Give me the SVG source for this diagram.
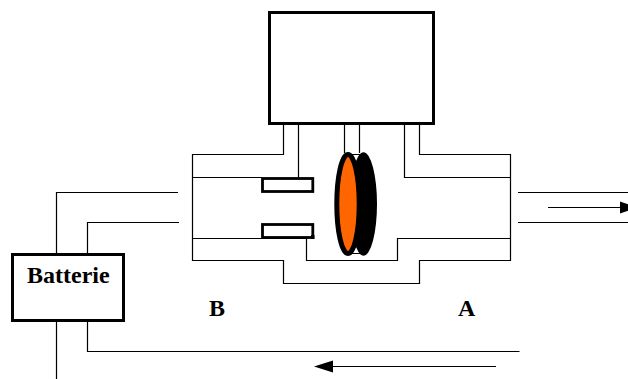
<svg xmlns="http://www.w3.org/2000/svg" width="628" height="379" viewBox="0 0 628 379">
<style>
.l{fill:none;stroke:#000;stroke-width:1.2}
.b{fill:#fff;stroke:#000;stroke-width:3}
.t{font-family:"Liberation Serif",serif;font-weight:bold;font-size:24px;fill:#000}
</style>
<rect width="628" height="379" fill="#fff"/>
<g id="connectors">
<path class="l" d="M283.5 124V154.5H192.5V260.5H283.5V283.5H419.5V260.5H510.5V154.5H419.5V124"/>
<path class="l" d="M298.5 124V177.5M192.5 177.5H262M404.5 124V177.5H510.5"/>
<path class="l" d="M192.5 238.5H306.5V260.5H397.5V238.5H510.5"/>
<path class="l" d="M344.5 124V153M359.5 124V153M348 154.5H363M348 253.5H363"/>
<path class="l" d="M178 192.5H56.5V254M179 222.5H87.5V254M56.5 321V379M87.5 321V351.5H519.5"/>
<path class="l" d="M518 192.5H628M518 222.5H628M548 207.5H622M496 366.5H330"/>
<path d="M620 201.500L638 207.500L620 213.500Z"/>
<path d="M314 366.500L333 360.500V372.500Z"/>
</g>
<g id="sensor-top"><rect x="262.500" y="178.500" width="50.300" height="13" fill="#fff" stroke="#000" stroke-width="2.800"/></g>
<g id="sensor-bottom"><rect x="262.500" y="224.500" width="50.300" height="13" fill="#fff" stroke="#000" stroke-width="2.800"/><rect x="311" y="235" width="3.500" height="4"/></g>
<g id="piston">
<ellipse cx="363.500" cy="204" rx="13.500" ry="51.700"/>
<ellipse cx="348" cy="204" rx="11.200" ry="49.500" fill="#f60" stroke="#000" stroke-width="5"/>
</g>
<g id="controller"><rect class="b" x="269.500" y="12.500" width="164" height="111"/></g>
<g id="battery"><rect class="b" x="12.500" y="254.500" width="111" height="66"/><text class="t" x="27" y="282.700">Batterie</text></g>
<g id="label-b"><text class="t" x="209" y="316">B</text></g>
<g id="label-a"><text class="t" x="458" y="316">A</text></g>
</svg>
